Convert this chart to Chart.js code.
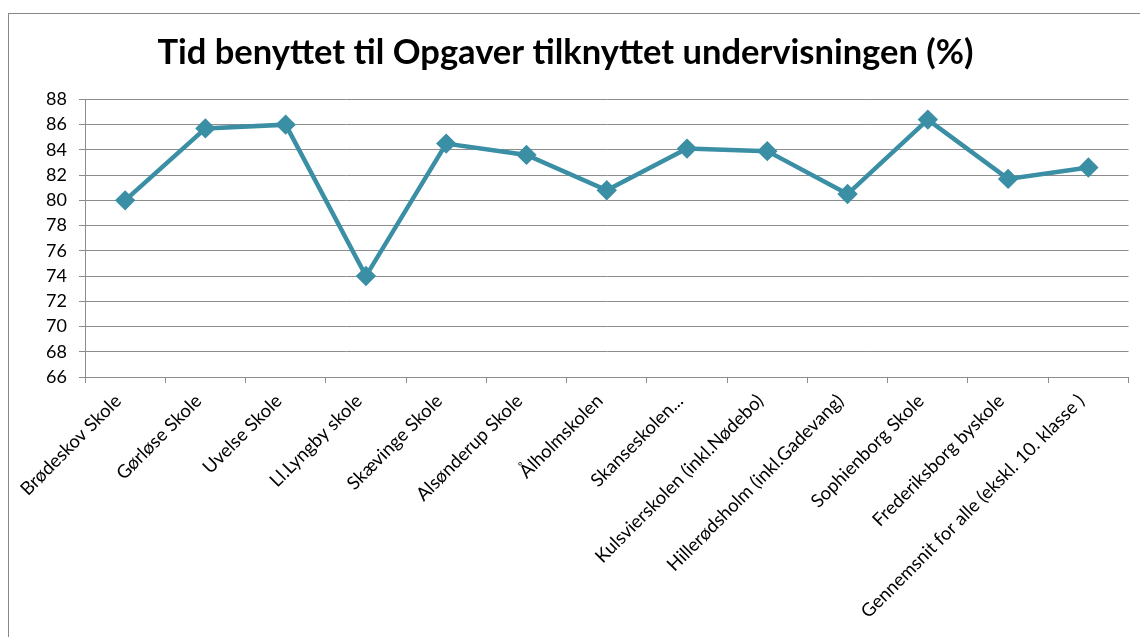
<!DOCTYPE html>
<html>
<head>
<meta charset="utf-8">
<script src="https://cdn.jsdelivr.net/npm/chart.js@4"></script>
<style>
  html, body { margin: 0; padding: 0; background: #fff; }
  #wrap { width: 1140px; height: 637px; position: relative; }
</style>
</head>
<body>
<div id="wrap"><canvas id="tid"></canvas></div>
<script>
const skoler = [
    'Brødeskov Skole',
    'Gørløse Skole',
    'Uvelse Skole',
    'Ll.Lyngby skole',
    'Skævinge Skole',
    'Alsønderup Skole',
    'Ålholmskolen',
    'Skanseskolen...',
    'Kulsvierskolen (inkl.Nødebo)',
    'Hillerødsholm (inkl.Gadevang)',
    'Sophienborg Skole',
    'Frederiksborg byskole',
    'Gennemsnit for alle (ekskl. 10. klasse )'
];
const procent = [80.0, 85.7, 86.0, 74.0, 84.5, 83.6, 80.8, 84.1, 83.9, 80.5, 86.4, 81.7, 82.6];
const yMin = 66;
const yMax = 88;
const yStep = 2;

const teal = '#3a8fa5';
const grey = '#8c8c8c';

// grey frame round the chart, like the spreadsheet chart box
const frame = {
    id: 'frame',
    beforeDraw(chart) {
        const c = chart.ctx;
        c.save();
        c.fillStyle = '#fff';
        c.fillRect(0, 0, chart.width, chart.height);
        c.strokeStyle = '#888';
        c.lineWidth = 1;
        c.strokeRect(8.5, 13.5, chart.width + 20, chart.height + 20);
        c.restore();
    }
};

var ctx = document.getElementById('tid');
var myChart = new Chart(ctx, {
    type: 'line',
    data: {
        labels: skoler,
        datasets: [{
            data: procent,
            borderColor: teal,
            backgroundColor: teal,
            borderWidth: 4.5,
            pointStyle: 'rectRot',
            pointRadius: 7,
            pointHoverRadius: 7,
            tension: 0
        }]
    },
    plugins: [frame],
    options: {
        responsive: true,
        maintainAspectRatio: false,
        animation: false,
        layout: {
            padding: { left: 0, right: 9, top: 0, bottom: 0 }
        },
        plugins: {
            legend: { display: false },
            tooltip: { enabled: false },
            title: {
                display: true,
                text: 'Tid benyttet til Opgaver tilknyttet undervisningen (%)',
                color: '#000',
                font: { family: 'Lato', size: 34.5, weight: 'bold' },
                padding: { top: 32, bottom: 26 }
            }
        },
        scales: {
            x: {
                offset: true,
                grid: {
                    offset: true,
                    drawOnChartArea: false,
                    drawTicks: true,
                    tickLength: 6,
                    color: grey
                },
                border: { color: grey, width: 1 },
                ticks: {
                    color: '#000',
                    maxRotation: 45,
                    minRotation: 45,
                    autoSkip: false,
                    padding: 7,
                    labelOffset: -7,
                    font: { family: 'Lato', size: 18.5 }
                },
                afterFit(scale) {
                    scale.height = 260;
                }
            },
            y: {
                min: yMin,
                max: yMax,
                ticks: {
                    stepSize: yStep,
                    autoSkip: false,
                    color: '#000',
                    padding: 12,
                    font: { family: 'Lato', size: 18 }
                },
                grid: {
                    color: grey,
                    lineWidth: 1,
                    tickLength: 6,
                    drawTicks: true
                },
                border: { color: grey, width: 1 },
                afterFit(scale) {
                    scale.width = 85;
                }
            }
        }
    }
});
</script>
</body>
</html>
